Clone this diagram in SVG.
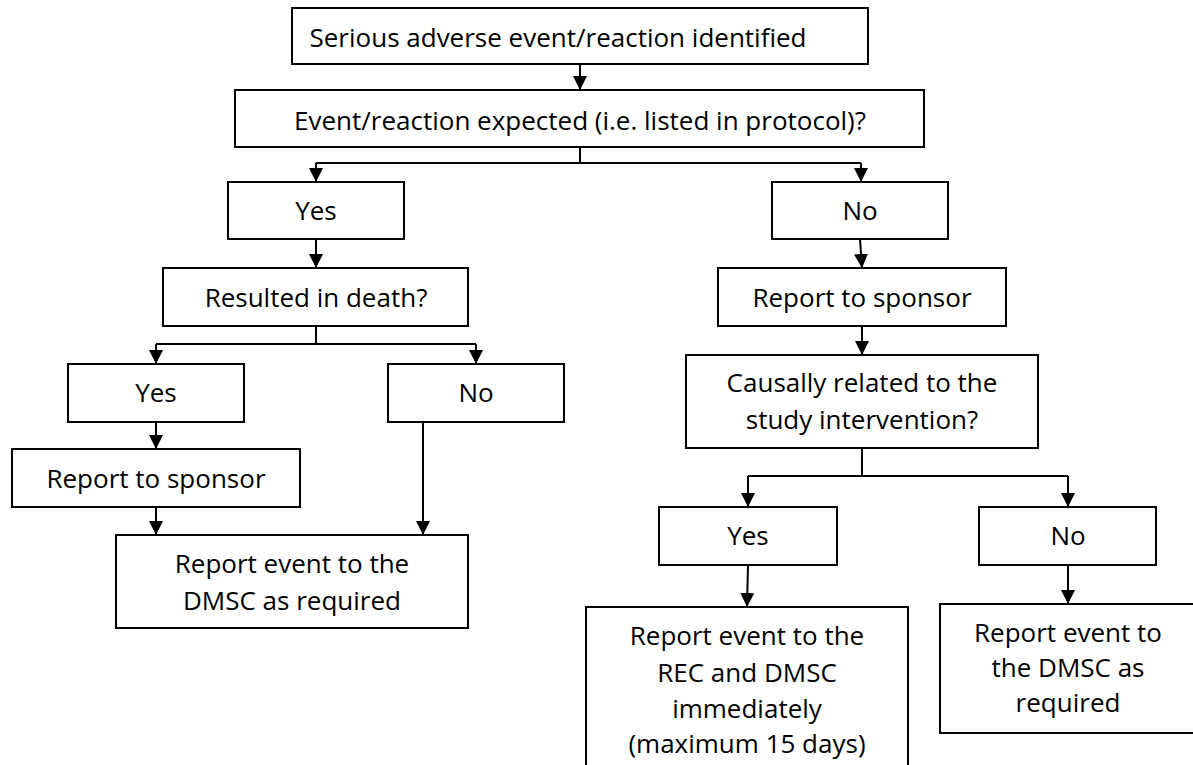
<svg xmlns="http://www.w3.org/2000/svg" width="1193" height="765" viewBox="0 0 1193 765">
<style>
.box{fill:#fff;stroke:#000;stroke-width:2}
.t{font-family:"Open Sans","Noto Sans","Liberation Sans",sans-serif;font-size:26px;fill:#000;text-anchor:middle}
.c{fill:none;stroke:#000;stroke-width:2}
.a{fill:none;stroke:#000;stroke-width:2;marker-end:url(#arr)}
</style>
<defs>
<marker id="arr" viewBox="0 0 14 14" refX="14" refY="7" markerWidth="14" markerHeight="14" markerUnits="userSpaceOnUse" orient="auto">
<path d="M0,0 L14,7 L0,14 z" fill="#000"/>
</marker>
</defs>
<rect width="1193" height="765" fill="#fff"/>
<g id="connectors">
<path class="a" d="M580,64 V90"/>
<path class="c" d="M580,147 V163 M316,163 H861"/>
<path class="a" d="M316,163 V182"/>
<path class="a" d="M861,163 V182"/>
<path class="a" d="M316,239 V268"/>
<path class="a" d="M860,239 L862,268"/>
<path class="c" d="M316,326 V344 M156,344 H476"/>
<path class="a" d="M156,344 V364"/>
<path class="a" d="M476,344 V364"/>
<path class="a" d="M156,422 V449"/>
<path class="a" d="M156,507 V535"/>
<path class="a" d="M423,422 V535"/>
<path class="a" d="M862,326 V355"/>
<path class="c" d="M862,448 V476 M748,476 H1068"/>
<path class="a" d="M748,476 V507"/>
<path class="a" d="M1068,476 V507"/>
<path class="a" d="M748,565 L747,607"/>
<path class="a" d="M1068,565 V604"/>
</g>
<g id="n1"><rect class="box" x="292" y="8" width="576" height="56"/><text class="t" x="558" y="47">Serious adverse event/reaction identified</text></g>
<g id="n2"><rect class="box" x="235" y="90" width="689" height="57"/><text class="t" x="580" y="130">Event/reaction expected (i.e. listed in protocol)?</text></g>
<g id="n3"><rect class="box" x="228" y="182" width="176" height="57"/><text class="t" x="316" y="220">Yes</text></g>
<g id="n4"><rect class="box" x="772" y="182" width="176" height="57"/><text class="t" x="860" y="220">No</text></g>
<g id="n5"><rect class="box" x="163" y="268" width="305" height="58"/><text class="t" x="316" y="307">Resulted in death?</text></g>
<g id="n6"><rect class="box" x="718" y="268" width="288" height="58"/><text class="t" x="862" y="307">Report to sponsor</text></g>
<g id="n7"><rect class="box" x="68" y="364" width="176" height="58"/><text class="t" x="156" y="402">Yes</text></g>
<g id="n8"><rect class="box" x="388" y="364" width="176" height="58"/><text class="t" x="476" y="402">No</text></g>
<g id="n9"><rect class="box" x="686" y="355" width="352" height="93"/><text class="t" x="862" y="392">Causally related to the</text><text class="t" x="862" y="429">study intervention?</text></g>
<g id="n10"><rect class="box" x="12" y="449" width="288" height="58"/><text class="t" x="156" y="488">Report to sponsor</text></g>
<g id="n11"><rect class="box" x="116" y="535" width="352" height="93"/><text class="t" x="292" y="573">Report event to the</text><text class="t" x="292" y="610">DMSC as required</text></g>
<g id="n12"><rect class="box" x="659" y="507" width="178" height="58"/><text class="t" x="748" y="545">Yes</text></g>
<g id="n13"><rect class="box" x="979" y="507" width="177" height="58"/><text class="t" x="1068" y="545">No</text></g>
<g id="n14"><rect class="box" x="586" y="607" width="322" height="170"/><text class="t" x="747" y="645">Report event to the</text><text class="t" x="747" y="682">REC and DMSC</text><text class="t" x="747" y="718">immediately</text><text class="t" x="747" y="753">(maximum 15 days)</text></g>
<g id="n15"><rect class="box" x="940" y="604" width="270" height="129"/><text class="t" x="1068" y="642">Report event to</text><text class="t" x="1068" y="677">the DMSC as</text><text class="t" x="1068" y="712">required</text></g>
</svg>
